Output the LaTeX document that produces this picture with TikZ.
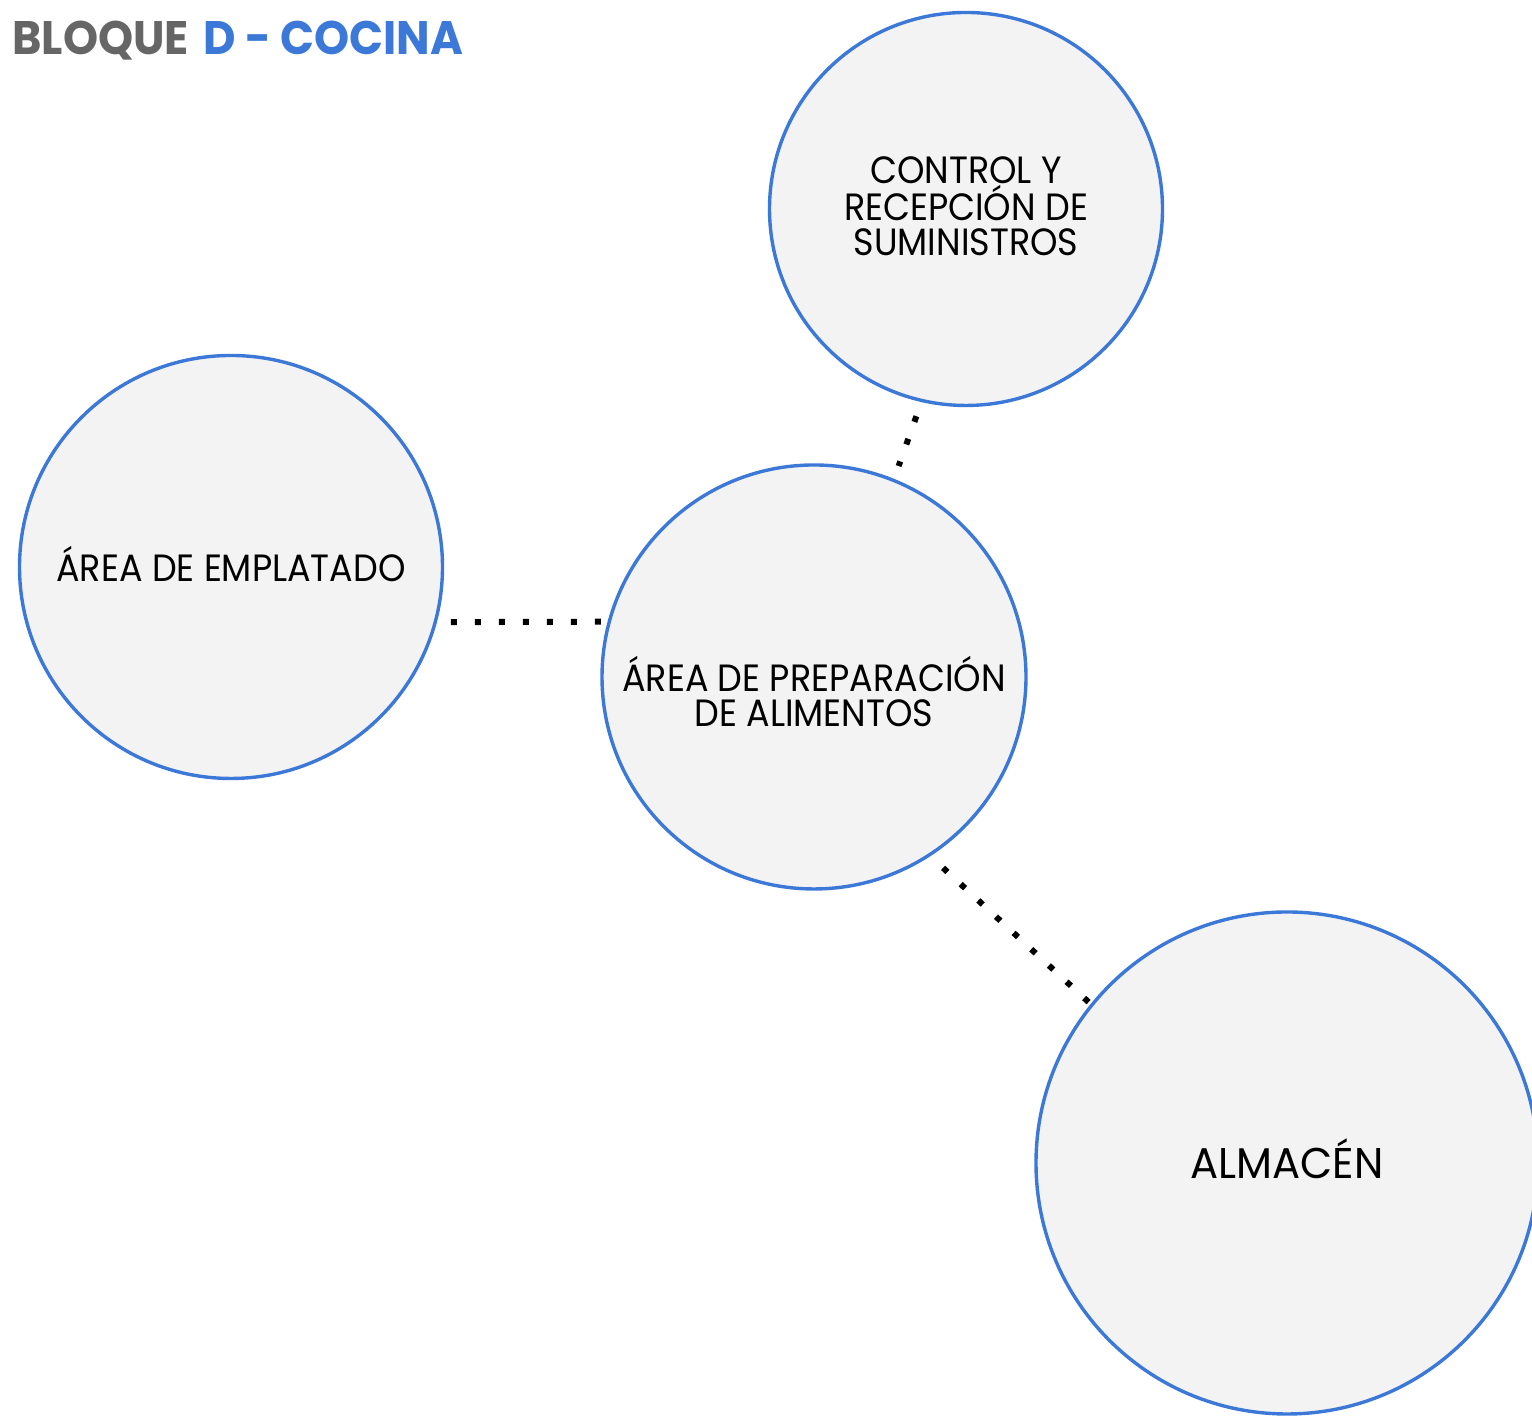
\documentclass[tikz,border=0pt]{standalone}
\usepackage{fontspec}
\setmainfont{Poppins}
\newfontfamily\bodyfont{Poppins}[FakeStretch=0.92]
\newfontfamily\almfont{Poppins}[FakeStretch=0.97]
\newfontfamily\titlefont{Poppins}[FakeStretch=0.95]
\definecolor{zblue}{HTML}{3C78D8}
\definecolor{zfill}{HTML}{F3F3F3}
\definecolor{tgray}{HTML}{666666}
\begin{document}
\begin{tikzpicture}[x=0.5pt,y=0.5pt,
  zone/.style={circle, draw=zblue, fill=zfill, line width=1.7pt, inner sep=0pt, align=center, text=black},
  lbl/.style={align=center, text=black, font=\bodyfont\fontsize{19}{17.5}\selectfont},
  dotline/.style={line width=3pt, dash pattern=on 3pt off 9pt, black}]
\useasboundingbox (0,0) rectangle (1532,1416);
\clip (0,0) rectangle (1532,1416);
\node[anchor=base west, font=\titlefont\fontsize{23.5}{28}\selectfont\bfseries, inner sep=0pt] (title) at (12,1361)
  {\color{tgray}BLOQUE\hspace{0.3em}\color{zblue}D - COCINA};
\node[zone, minimum size=196.5pt] (ctrl) at (966,1207) {};
\node[lbl] (ctrlt) at ([yshift=1.5pt]ctrl.center) {CONTROL Y\\RECEPCIÓN DE\\SUMINISTROS};
\node[zone, minimum size=211.5pt] (empl) at (231,849) {};
\node[lbl] (emplt) at ([yshift=1.5pt]empl.center) {ÁREA DE EMPLATADO};
\node[zone, minimum size=212pt] (prep) at (814,739) {};
\node[lbl] (prept) at ([yshift=-7.5pt]prep.center) {ÁREA DE PREPARACIÓN\\DE ALIMENTOS};
\node[zone, minimum size=251pt] (alm) at (1287,253) {};
\node[font=\almfont\fontsize{21.5}{20}\selectfont, text=black] (almt) at ([yshift=2pt]alm.center) {ALMACÉN};
\draw[dotline, shorten <=7.5pt, shorten >=6.8pt] (ctrl.257.2) -- (prep.68.23);
\draw[dotline, shorten <=7pt, shorten >=3pt] (empl.-15.1) -- (prep.165.2);
\draw[dotline, shorten <=8.6pt, shorten >=0.7pt] (prep.-57.6) -- (alm.141.25);
\end{tikzpicture}
\end{document}
